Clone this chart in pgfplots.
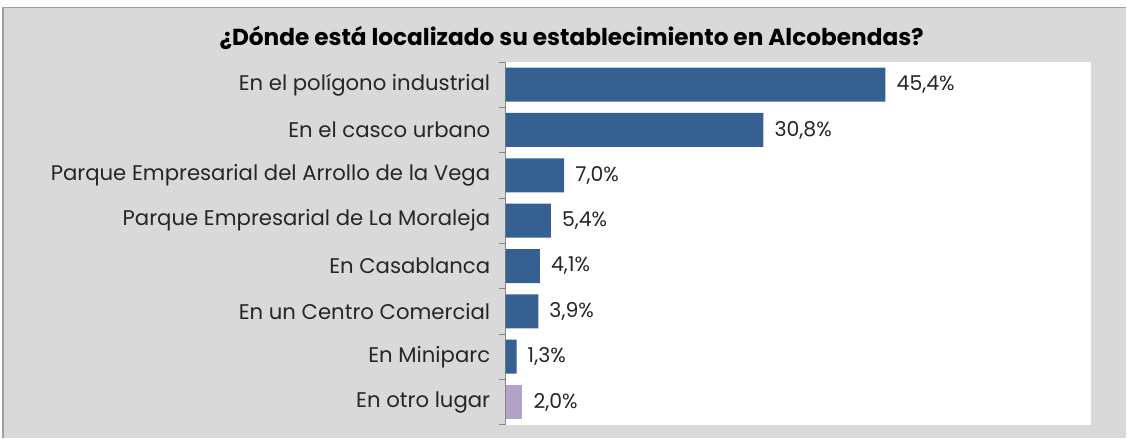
\documentclass[border=0pt]{standalone}
\usepackage{pgfplots}
\pgfplotsset{compat=1.18}
\usepackage{fontspec}
\setmainfont{Poppins}
\definecolor{bgGray}{HTML}{D9D9D9}
\definecolor{barBlue}{HTML}{376092}
\definecolor{barLav}{HTML}{B3A2C7}
\definecolor{borderGray}{HTML}{A0A0A0}
\definecolor{axisGray}{HTML}{868686}
\definecolor{txt}{HTML}{262626}
\begin{document}
\begin{tikzpicture}
\path (0bp,0bp) rectangle (1127bp,438bp);
\fill[bgGray] (3bp,0bp) rectangle (1127bp,430.5bp);
\draw[borderGray, line width=1.5bp] (3bp,0bp) -- (3bp,430.5bp) -- (1127bp,430.5bp);
\node[font=\bfseries\fontsize{23.3}{28}\selectfont, text=black] at (572bp,400bp) {¿Dónde está localizado su establecimiento en Alcobendas?};
\begin{axis}[
  at={(506bp,13bp)}, anchor=south west,
  scale only axis, width=586bp, height=363bp,
  xmin=0, xmax=70, ymin=-0.5, ymax=7.5, y dir=reverse,
  axis x line=none, axis y line*=left,
  axis background/.style={fill=white},
  y axis line style={axisGray, line width=0.8bp},
  ytick={0,...,7},
  yticklabels={En el polígono industrial, En el casco urbano, Parque Empresarial del Arrollo de la Vega, Parque Empresarial de La Moraleja, En Casablanca, En un Centro Comercial, En Miniparc, En otro lugar},
  major tick length=0pt,
  minor ytick={-0.5,0.5,...,7.5},
  minor tick length=7bp,
  tick align=outside,
  minor tick style={axisGray, line width=0.8bp},
  yticklabel style={font=\fontsize{21.3}{25}\selectfont, text=txt, xshift=-12bp},
  xbar, bar width=0.75, bar shift=0pt,
  nodes near coords={\pgfmathprintnumber[fixed,precision=1,fixed zerofill,use comma,assume math mode=true]{\pgfplotspointmeta}\%},
  every node near coord/.append style={font=\fontsize{20.5}{24}\selectfont, text=txt, anchor=west, inner sep=0pt, xshift=11bp},
  clip=false,
]
\addplot[fill=barBlue, draw=none] coordinates {(45.4,0) (30.8,1) (7.0,2) (5.4,3) (4.1,4) (3.9,5) (1.3,6)};
\addplot[fill=barLav, draw=none] coordinates {(2.0,7)};
\end{axis}
\end{tikzpicture}
\end{document}
